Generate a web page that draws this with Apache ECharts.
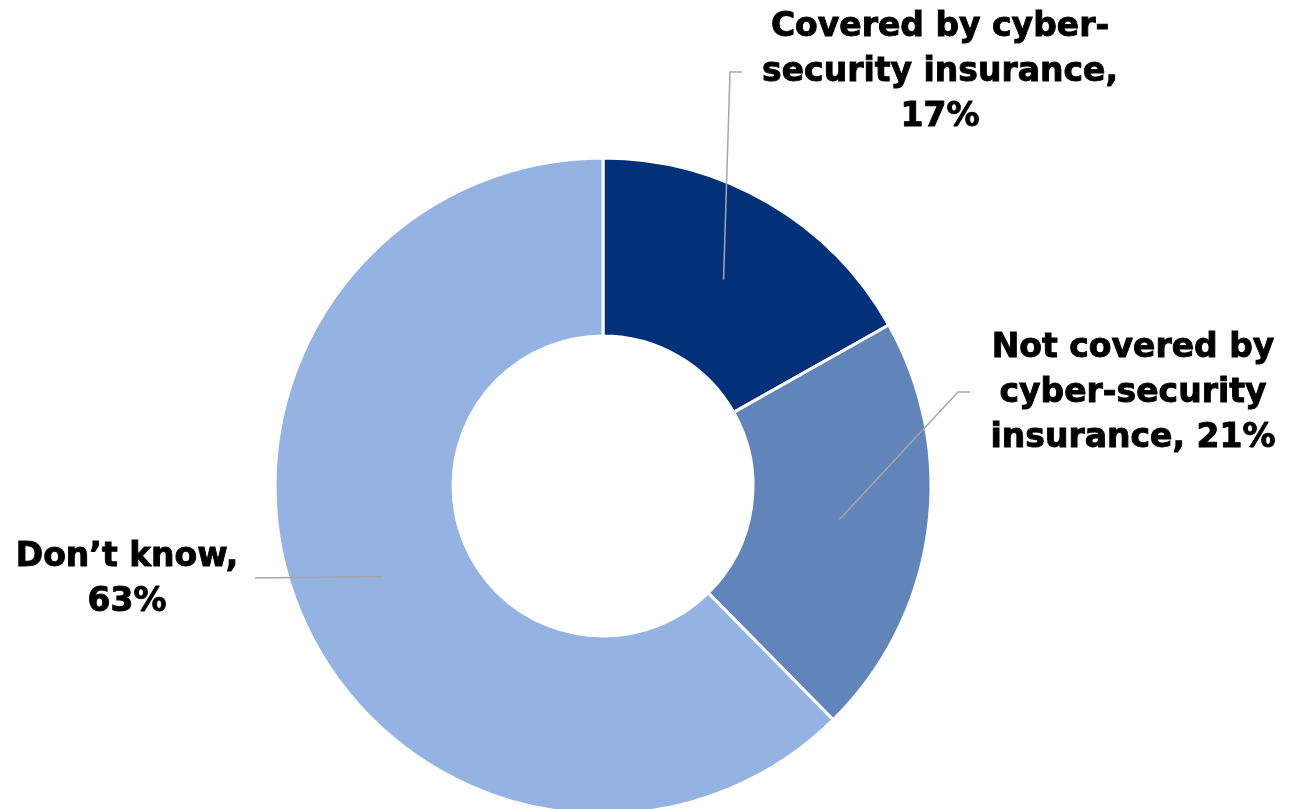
<!DOCTYPE html>
<html>
<head>
<meta charset="utf-8">
<script src="https://cdn.jsdelivr.net/npm/echarts@6/dist/echarts.min.js"></script>
<style>
  html, body { margin: 0; padding: 0; background: #ffffff; }
  #chart { width: 1297px; height: 809px; }
</style>
</head>
<body>
<div id="chart"></div>
<script>
// Survey shares of respondents
const categories = [
  'Covered by cyber-security insurance',
  'Not covered by cyber-security insurance',
  "Don\u2019t know"
];
const values = [17, 21, 63];
const labelTexts = [
  'Covered by cyber-\nsecurity insurance,\n17%',
  'Not covered by\ncyber-security\ninsurance, 21%',
  'Don\u2019t know,\n63%'
];
const colors = ['#02317A', '#6185BA', '#95B3E2'];

// Layout of the ring and the callout labels
const CX = 603, CY = 486, R_IN = 150, R_OUT = 328;
const labelBoxes = [
  { x: 940, y: 72, elbow: [[730, 72], [742, 72]] },
  { x: 1133, y: 393, elbow: [[958, 392], [970, 392]] },
  { x: 127, y: 580, elbow: [[255, 578]] }
];

const total = values.reduce((a, b) => a + b, 0);
// leader lines start mid-ring, at each slice's middle angle
function anchorPoint(i) {
  let before = 0;
  for (let k = 0; k < i; k++) before += values[k];
  const deg = 90 - (before + values[i] / 2) / total * 360;
  const rad = deg * Math.PI / 180;
  const r = (R_IN + R_OUT) / 2;
  return [CX + r * Math.cos(rad), CY - r * Math.sin(rad)];
}

const data = categories.map((name, i) => ({ name: name, value: values[i] }));
const common = {
  type: 'pie',
  center: [CX, CY],
  radius: [R_IN, R_OUT],
  startAngle: 90,
  clockwise: true,
  avoidLabelOverlap: false,
  emphasis: { disabled: true },
  silent: true
};

const chart = echarts.init(document.getElementById('chart'), null, { renderer: 'canvas' });
chart.setOption({
  animation: false,
  series: [
    // the ring itself
    Object.assign({}, common, {
      z: 2,
      itemStyle: { borderColor: '#ffffff', borderWidth: 3 },
      label: { show: false },
      labelLine: { show: false },
      data: data.map((d, i) => Object.assign({}, d, { itemStyle: { color: colors[i] } }))
    }),
    // callouts drawn above the ring so the leaders cross the slices
    Object.assign({}, common, {
      z: 5,
      itemStyle: { color: 'rgba(0,0,0,0)', borderWidth: 0 },
      label: {
        show: true,
        formatter: (p) => labelTexts[p.dataIndex],
        fontFamily: 'DejaVu Sans',
        fontWeight: 'bold',
        fontSize: 33,
        lineHeight: 45,
        color: '#000000',
        textBorderColor: '#000000',
        textBorderWidth: 0.9,
        align: 'center'
      },
      labelLine: {
        show: true,
        lineStyle: { color: '#A6A6A6', width: 1.5 }
      },
      labelLayout: (params) => {
        const i = params.dataIndex;
        const box = labelBoxes[i];
        return {
          x: box.x,
          y: box.y,
          align: 'center',
          verticalAlign: 'middle',
          labelLinePoints: [anchorPoint(i)].concat(box.elbow)
        };
      },
      data: data
    })
  ]
});
</script>
</body>
</html>
